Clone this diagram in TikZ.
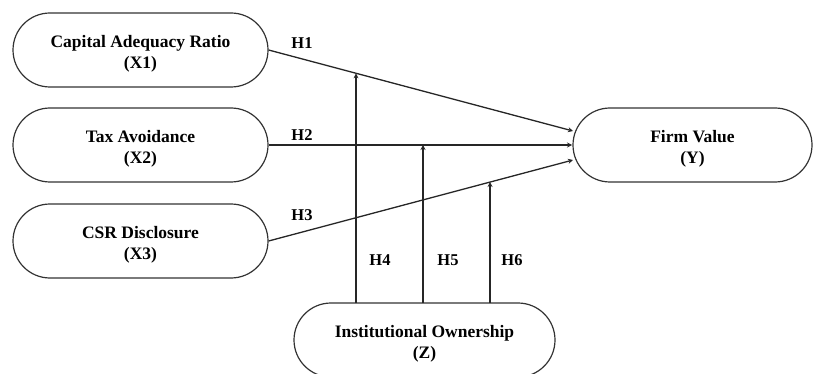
\documentclass[tikz,border=0pt]{standalone}
\usepackage{fontspec}
\setmainfont{Liberation Serif}
\usetikzlibrary{arrows.meta,calc}
\newcommand{\topstrut}{\rule{0pt}{20pt}}
\begin{document}
\begin{tikzpicture}[x=1pt,y=-1pt,
  var/.style={draw=black!80,line width=1.2pt,rounded corners=37pt,minimum height=74pt,
    align=center,font=\fontsize{17.5}{21}\selectfont\bfseries,inner sep=0pt},
  link/.style={draw=black!85,line width=1.3pt,-{Stealth[length=5pt,width=5pt]}},
  hlab/.style={font=\fontsize{16.5}{20}\selectfont\bfseries,inner sep=0pt}]
\useasboundingbox (0,0) rectangle (813,374);
\node[var,minimum width=255pt] (X1) at (140.5,50) {\topstrut Capital Adequacy Ratio\\(X1)};
\node[var,minimum width=255pt] (X2) at (140.5,145) {\topstrut Tax Avoidance\\(X2)};
\node[var,minimum width=255pt] (X3) at (140.5,241) {\topstrut CSR Disclosure\\(X3)};
\node[var,minimum width=239pt] (Y) at (692.5,145) {\topstrut Firm Value\\(Y)};
\node[var,minimum width=261pt] (Z) at (424.5,340) {\topstrut Institutional Ownership\\(Z)};
\coordinate (y1) at (573,131);
\coordinate (y2) at (572,145);
\coordinate (y3) at (573,160);
\draw[link] (X1.east) -- (y1);
\draw[link] (X2.east) -- (y2);
\draw[link] (X3.east) -- (y3);
\coordinate (m4) at ($(X1.east)!0.2885!(y1)$);
\coordinate (m5) at (423,145);
\coordinate (m6) at ($(X3.east)!0.728!(y3)$);
\coordinate (z4) at (356,303);
\coordinate (z5) at (423,303);
\coordinate (z6) at (490,303);
\draw[link] (z4) -- (z4 |- m4);
\draw[link] (z5) -- (m5);
\draw[link] (z6) -- (z6 |- m6);
\node[hlab] (h1) at (302,43) {H1};
\node[hlab] (h2) at (302,135) {H2};
\node[hlab] (h3) at (302,215) {H3};
\node[hlab] (h4) at (380,260) {H4};
\node[hlab] (h5) at (448,260) {H5};
\node[hlab] (h6) at (512,260) {H6};
\end{tikzpicture}
\end{document}
